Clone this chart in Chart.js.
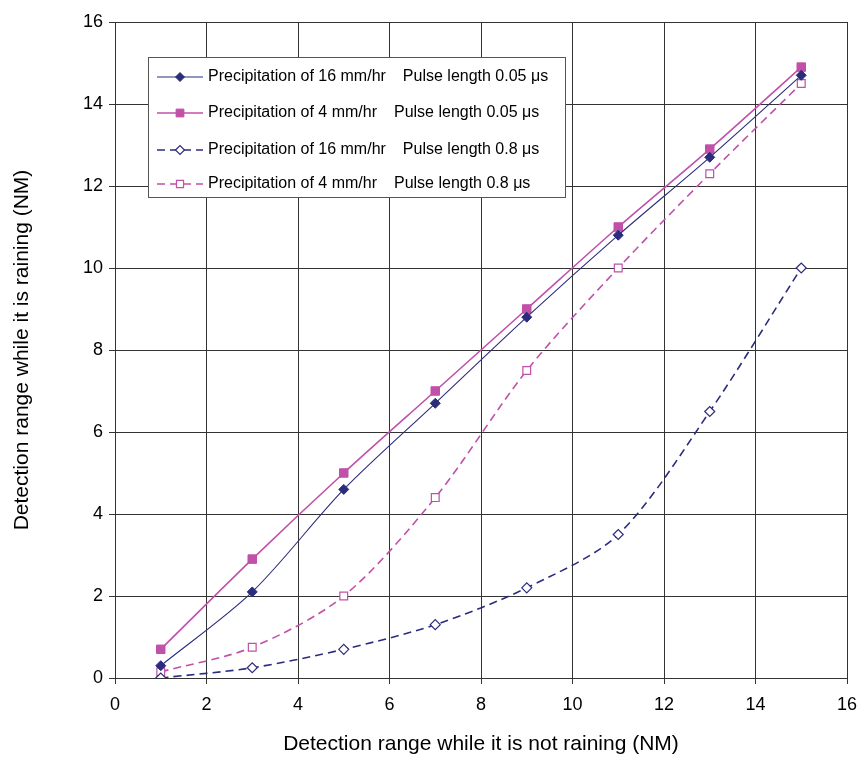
<!DOCTYPE html>
<html>
<head>
<meta charset="utf-8">
<style>
  html, body { margin: 0; padding: 0; background: #fff; }
  #wrap { width: 860px; height: 761px; position: relative; }
</style>
<script src="https://cdn.jsdelivr.net/npm/chart.js@4/dist/chart.umd.min.js"></script>
</head>
<body>
<div id="wrap"><canvas id="chart" width="860" height="761"></canvas></div>
<script>
// detection range while not raining (NM)
const rangeDry = [1, 3, 5, 7, 9, 11, 13, 15];

// detection range while raining (NM)
const rain16Short = [0.3, 2.1, 4.6, 6.7, 8.8, 10.8, 12.7, 14.7];
const rain4Short = [0.7, 2.9, 5.0, 7.0, 9.0, 11.0, 12.9, 14.9];
const rain16Long = [0.0, 0.25, 0.7, 1.3, 2.2, 3.5, 6.5, 10.0];
const rain4Long = [0.15, 0.75, 2.0, 4.4, 7.5, 10.0, 12.3, 14.5];

const seriesNames = [
  ["Precipitation of 16 mm/hr", "Pulse length 0.05 \u03bcs"],
  ["Precipitation of 4 mm/hr", "Pulse length 0.05 \u03bcs"],
  ["Precipitation of 16 mm/hr", "Pulse length 0.8 \u03bcs"],
  ["Precipitation of 4 mm/hr", "Pulse length 0.8 \u03bcs"]
];

const navy = "#2b2c7c";
const pink = "#c050a8";
const FONT = "'Liberation Sans', Arial, sans-serif";

const toPoints = (ys) => rangeDry.map((x, i) => ({ x: x, y: ys[i] }));

const datasets = [
  {
    label: seriesNames[0].join("    "),
    data: toPoints(rain16Short),
    borderColor: navy, backgroundColor: navy, borderWidth: 1.1,
    pointStyle: "rectRot", pointRadius: 5, pointBorderWidth: 1
  },
  {
    label: seriesNames[1].join("    "),
    data: toPoints(rain4Short),
    borderColor: pink, backgroundColor: pink, borderWidth: 1.6,
    pointStyle: "rect", pointRadius: 6, pointBorderWidth: 1
  },
  {
    label: seriesNames[2].join("    "),
    data: toPoints(rain16Long),
    borderColor: navy, backgroundColor: "#fff", borderWidth: 1.6, borderDash: [8, 5],
    pointStyle: "rectRot", pointRadius: 5, pointBorderWidth: 1.2
  },
  {
    label: seriesNames[3].join("    "),
    data: toPoints(rain4Long),
    borderColor: pink, backgroundColor: "#fff", borderWidth: 1.6, borderDash: [8, 5],
    pointStyle: "rect", pointRadius: 5.5, pointBorderWidth: 1.2
  }
];

// legend box drawn inside the plot area
const boxLegend = {
  id: "boxLegend",
  afterDraw(chart) {
    const ctx = chart.ctx;
    const x0 = 148, y0 = 57, w = 417, h = 140;
    ctx.save();
    ctx.fillStyle = "#fff";
    ctx.fillRect(x0, y0, w, h);
    ctx.strokeStyle = "#555";
    ctx.lineWidth = 1;
    ctx.strokeRect(x0 + 0.5, y0 + 0.5, w, h);
    const rows = [77, 113, 150, 184];
    ctx.font = "16px " + FONT;
    ctx.textBaseline = "middle";
    chart.data.datasets.forEach((ds, i) => {
      const y = rows[i];
      ctx.strokeStyle = ds.borderColor;
      ctx.lineWidth = ds.borderWidth;
      ctx.setLineDash(ds.borderDash || []);
      ctx.beginPath();
      ctx.moveTo(157, y);
      ctx.lineTo(203, y);
      ctx.stroke();
      ctx.setLineDash([]);
      ctx.fillStyle = ds.backgroundColor;
      ctx.strokeStyle = ds.borderColor;
      ctx.lineWidth = ds.pointBorderWidth;
      Chart.helpers.drawPoint(ctx, {
        pointStyle: ds.pointStyle, radius: ds.pointRadius - 0.5, rotation: 0,
        borderWidth: ds.pointBorderWidth
      }, 180, y);
      ctx.fillStyle = "#000";
      const [a, b] = seriesNames[i];
      ctx.fillText(a, 208, y);
      ctx.fillText(b, 208 + ctx.measureText(a).width + 17, y);
    });
    ctx.restore();
  }
};

new Chart(document.getElementById("chart"), {
  type: "line",
  data: { datasets: datasets },
  plugins: [boxLegend],
  options: {
    responsive: false,
    animation: false,
    layout: { padding: { top: 22, right: 13, left: 6, bottom: 0 } },
    elements: { line: { tension: 0.3, fill: false } },
    plugins: { legend: { display: false }, tooltip: { enabled: false } },
    scales: {
      x: {
        type: "linear", min: 0, max: 16,
        ticks: { stepSize: 2, color: "#000", font: { family: FONT, size: 18 }, padding: 10 },
        grid: { color: "#333", lineWidth: 1, tickLength: 6 },
        border: { color: "#333" },
        title: { display: true, text: "Detection range while it is not raining (NM)", color: "#000", font: { family: FONT, size: 21 }, padding: { top: 2 } },
        afterFit(s) { s.height = 83; s.paddingRight = 0; s.paddingLeft = 0; }
      },
      y: {
        min: 0, max: 16,
        ticks: { stepSize: 2, color: "#000", font: { family: FONT, size: 18 }, padding: 6 },
        grid: { color: "#333", lineWidth: 1, tickLength: 6 },
        border: { color: "#333" },
        title: { display: true, text: "Detection range while it is raining (NM)", color: "#000", font: { family: FONT, size: 21 } },
        afterFit(s) { s.width = 109; s.paddingTop = 0; s.paddingBottom = 0; }
      }
    }
  }
});
</script>
</body>
</html>
